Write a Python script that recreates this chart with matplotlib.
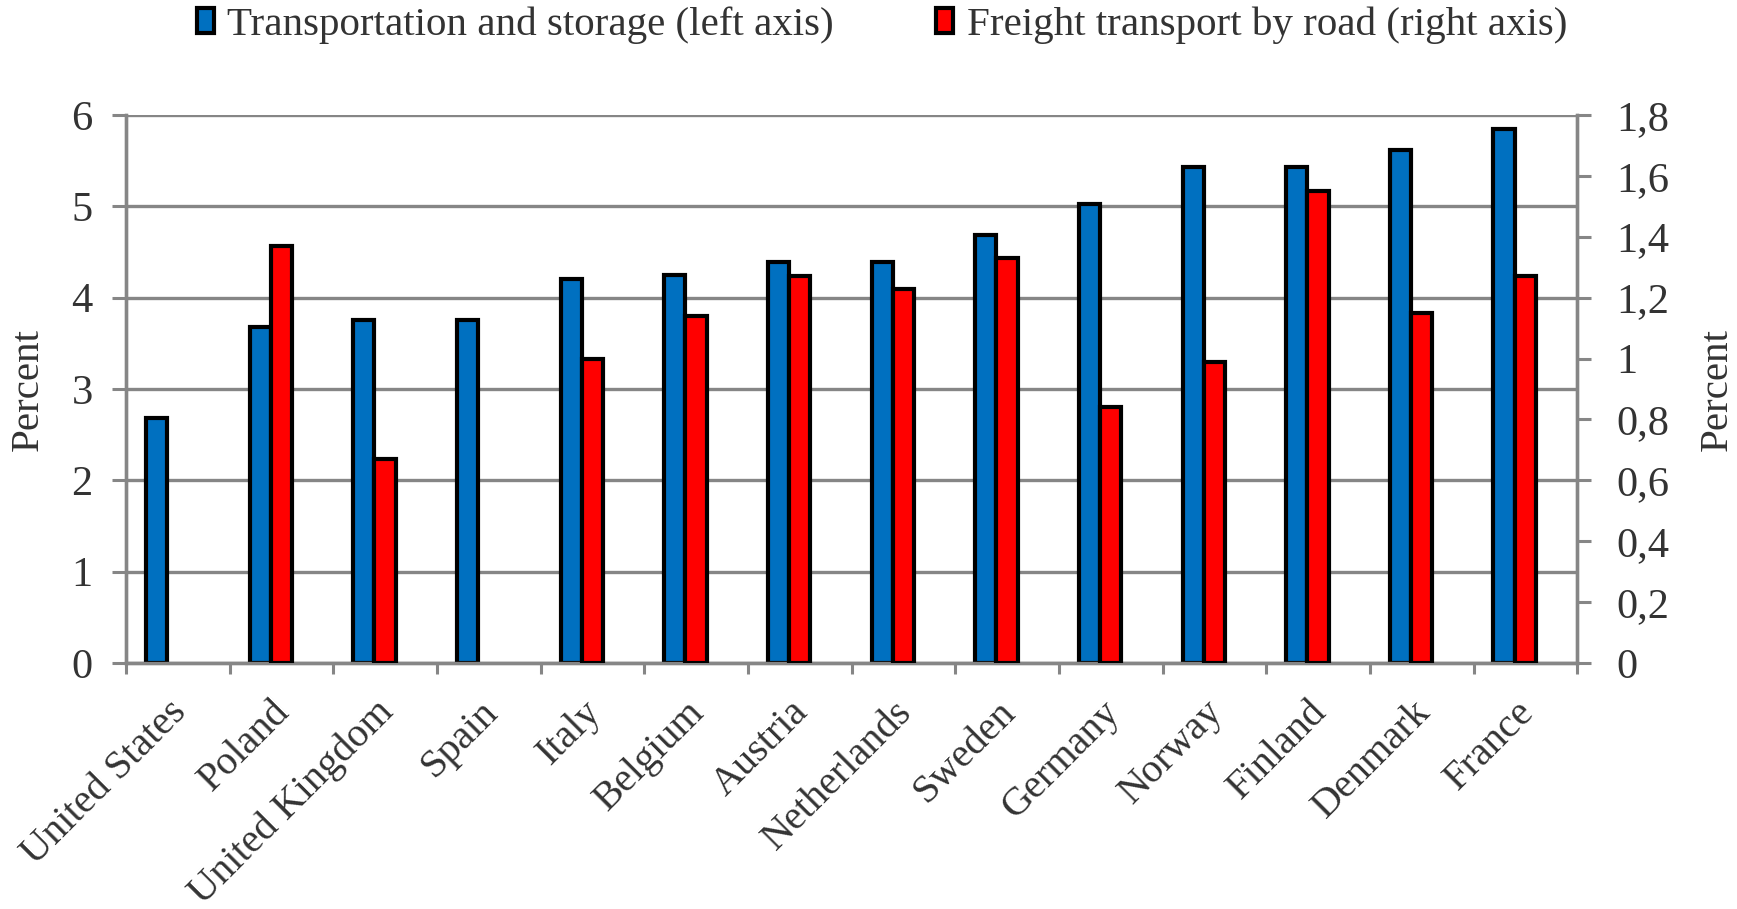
import numpy as np
import matplotlib
matplotlib.use("Agg")
import matplotlib.pyplot as plt
from matplotlib.ticker import FuncFormatter, MultipleLocator
from matplotlib.transforms import ScaledTranslation

plt.rcParams['font.family'] = ['Liberation Serif', 'DejaVu Serif']

countries = ['United States', 'Poland', 'United Kingdom', 'Spain', 'Italy',
             'Belgium', 'Austria', 'Netherlands', 'Sweden', 'Germany',
             'Norway', 'Finland', 'Denmark', 'France']
# transportation and storage, percent (left axis)
transport = [2.68, 3.68, 3.76, 3.76, 4.20, 4.25, 4.39, 4.39, 4.69, 5.03,
             5.43, 5.43, 5.62, 5.85]
# freight transport by road, percent (right axis); no data for US and Spain
freight = [np.nan, 1.37, 0.67, np.nan, 1.00, 1.14, 1.27, 1.23, 1.33, 0.84,
           0.99, 1.55, 1.15, 1.27]

BLUE = '#0070C0'
RED = '#FF0000'
GRID = '#868686'
TXT = '#333333'
FS = 29.5
TICKFS = 30.5

fig = plt.figure(figsize=(17.37, 9.09), dpi=100)
ax = fig.add_subplot(111)
fig.subplots_adjust(left=0.0725, right=0.908, bottom=0.2706, top=0.8735)
ax2 = ax.twinx()

x = np.arange(len(countries))
w = 0.205

b1 = ax.bar(x - w, transport, w, align='center', color=BLUE,
            edgecolor='black', linewidth=3, zorder=3,
            label='Transportation and storage (left axis)')
b2 = ax2.bar(x, freight, w, align='center', color=RED,
             edgecolor='black', linewidth=3, zorder=3,
             label='Freight transport by road (right axis)')

ax.set_xlim(-0.5, len(countries) - 0.5)
ax.set_ylim(0, 6)
ax2.set_ylim(0, 1.8)

ax.set_axisbelow(True)
ax.yaxis.grid(True, color=GRID, linewidth=2.4)
ax.yaxis.set_major_locator(MultipleLocator(1))
ax2.yaxis.set_major_locator(MultipleLocator(0.2))


def comma(v, pos):
    return ('%g' % round(v, 1)).replace('.', ',')


ax2.yaxis.set_major_formatter(FuncFormatter(comma))

for a in (ax, ax2):
    for s in a.spines.values():
        s.set_color(GRID)
        s.set_linewidth(2.4)
    a.spines['top'].set_visible(False)

ax.tick_params(axis='y', direction='out', length=10, width=2.2, color=GRID,
               pad=14, labelsize=TICKFS, labelcolor=TXT)
ax2.tick_params(axis='y', direction='out', length=10, width=2.2, color=GRID,
                pad=18, labelsize=TICKFS, labelcolor=TXT)

# category labels at centres, tick marks at category boundaries
ax.set_xticks(x)
ax.set_xticklabels(countries)
ax.set_xticks(np.arange(len(countries) + 1) - 0.5, minor=True)
ax.tick_params(axis='x', which='major', length=0, pad=22, labelsize=29,
               labelcolor=TXT)
ax.tick_params(axis='x', which='minor', direction='out', length=8, width=2.2,
               color=GRID)
off = ScaledTranslation(-10 / 100, 0, fig.dpi_scale_trans)
for lab in ax.get_xticklabels():
    lab.set_rotation(45)
    lab.set_ha('right')
    lab.set_va('top')
    lab.set_rotation_mode('anchor')
    lab.set_transform(lab.get_transform() + off)

ax.set_ylabel('Percent', fontsize=FS, color=TXT)
ax.yaxis.set_label_coords(-0.0544, 0.5)
ax2.set_ylabel('Percent', fontsize=FS, color=TXT)
ax2.yaxis.set_label_coords(1.084, 0.5)

fig.legend(handles=[b1, b2], loc='center', bbox_to_anchor=(882 / 1737, 1 - 25 / 909),
           ncol=2, frameon=False, fontsize=FS, labelcolor=TXT,
           handlelength=0.41, handleheight=0.57, handletextpad=0.33,
           columnspacing=2.5, borderaxespad=0, borderpad=0)

fig.savefig('out.png', dpi=100)
